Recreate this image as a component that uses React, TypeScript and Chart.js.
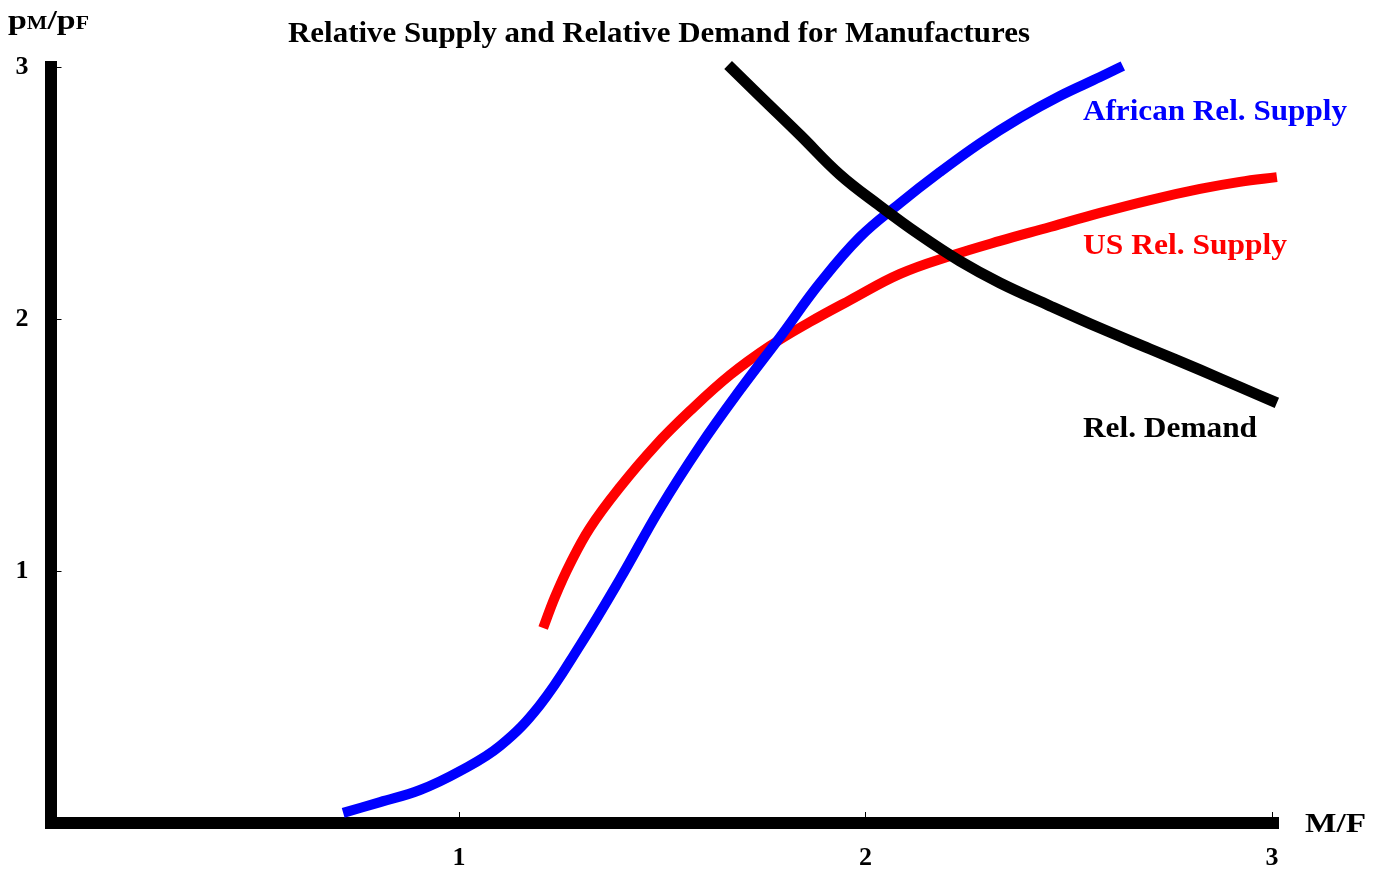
import React, { useEffect, useRef } from "react";
import { Chart, registerables } from "chart.js";

Chart.register(...registerables);

// ---- Data ----
const xTickValues = [1, 2, 3];
const yTickValues = [1, 2, 3];

const africanX = [0.715, 0.806, 0.904, 1.002, 1.101, 1.199, 1.298, 1.396, 1.494, 1.593, 1.691, 1.79, 1.888, 1.986, 2.085, 2.183, 2.282, 2.38, 2.478, 2.577, 2.633];
const africanY = [0.04, 0.083, 0.131, 0.206, 0.306, 0.468, 0.706, 0.968, 1.246, 1.496, 1.718, 1.929, 2.143, 2.325, 2.46, 2.583, 2.698, 2.798, 2.885, 2.96, 3.004];

const usX = [1.207, 1.236, 1.273, 1.322, 1.396, 1.482, 1.568, 1.667, 1.765, 1.863, 1.962, 2.085, 2.208, 2.331, 2.454, 2.577, 2.7, 2.823, 2.921, 3.012];
const usY = [0.774, 0.897, 1.028, 1.171, 1.333, 1.496, 1.635, 1.778, 1.893, 1.988, 2.075, 2.179, 2.25, 2.31, 2.365, 2.421, 2.472, 2.516, 2.544, 2.563];

const demandX = [1.662, 1.74, 1.839, 1.937, 2.036, 2.134, 2.232, 2.331, 2.454, 2.577, 2.7, 2.823, 2.921, 3.012];
const demandY = [3.008, 2.885, 2.73, 2.573, 2.448, 2.333, 2.23, 2.143, 2.052, 1.964, 1.881, 1.798, 1.73, 1.667];

const seriesNames = ["Rel. Demand", "African Rel. Supply", "US Rel. Supply"];
const titleText = "Relative Supply and Relative Demand for Manufactures";
const xAxisTitle = "M/F";

// label anchors (data coordinates: left edge, baseline)
const labelAnchorX = [2.535, 2.535, 2.535];
const labelAnchorY = [1.532, 2.79, 2.258];

const colors = ["#000000", "#0000ff", "#ff0000"];
const SERIF = '"Liberation Serif", "Times New Roman", serif';

const zip = (xs: number[], ys: number[]) => xs.map((v, i) => ({ x: v, y: ys[i] }));

// draw text horizontally stretched to a given width (the reference text is wide)
function drawFit(ctx: CanvasRenderingContext2D, text: string, x: number, y: number, width: number, align: "left" | "center") {
  const w = ctx.measureText(text).width;
  const sx = width / w;
  ctx.save();
  ctx.textAlign = "left";
  const left = align === "center" ? x - width / 2 : x;
  ctx.translate(left, y);
  ctx.scale(sx, 1);
  ctx.fillText(text, 0, 0);
  ctx.restore();
}

const textPlugin = {
  id: "rsrdText",
  afterDraw(chart: any) {
    const { ctx } = chart;
    const xs = chart.scales.x;
    const ys = chart.scales.y;
    ctx.save();
    ctx.textBaseline = "alphabetic";
    // title
    ctx.fillStyle = "#000";
    ctx.font = `bold 30px ${SERIF}`;
    drawFit(ctx, titleText, 659, 42, 742, "center");
    // curve labels
    const labelWidths = [174, 264, 204];
    ctx.font = `bold 30px ${SERIF}`;
    seriesNames.forEach((name, i) => {
      ctx.fillStyle = colors[i];
      drawFit(ctx, name, xs.getPixelForValue(labelAnchorX[i]), ys.getPixelForValue(labelAnchorY[i]), labelWidths[i], "left");
    });
    // x-axis title
    ctx.fillStyle = "#000";
    ctx.font = `bold 28px ${SERIF}`;
    drawFit(ctx, xAxisTitle, 1305, 832, 61, "left");
    // y-axis title pM/pF
    const parts: [string, number][] = [["p", 28], ["M", 18], ["/", 28], ["p", 28], ["F", 18]];
    let total = 0;
    parts.forEach(([t, s]) => {
      ctx.font = `bold ${s}px ${SERIF}`;
      total += ctx.measureText(t).width;
    });
    const sx = 81 / total;
    ctx.translate(8, 29);
    ctx.scale(sx, 1);
    let cx = 0;
    parts.forEach(([t, s]) => {
      ctx.font = `bold ${s}px ${SERIF}`;
      ctx.fillText(t, cx, 0);
      cx += ctx.measureText(t).width;
    });
    ctx.restore();
  },
};

export default function App() {
  const ref = useRef<HTMLCanvasElement | null>(null);
  useEffect(() => {
    if (!ref.current) return;
    const tickFont = { family: SERIF, size: 26, weight: "bold" as const };
    const chart = new Chart(ref.current, {
      type: "line",
      data: {
        datasets: [
          { label: seriesNames[0], data: zip(demandX, demandY), borderColor: colors[0], borderWidth: 11 },
          { label: seriesNames[1], data: zip(africanX, africanY), borderColor: colors[1], borderWidth: 10 },
          { label: seriesNames[2], data: zip(usX, usY), borderColor: colors[2], borderWidth: 10 },
        ].map((d) => ({
          ...d,
          pointRadius: 0,
          fill: false,
          tension: 0.4,
          borderCapStyle: "butt" as const,
          borderJoinStyle: "round" as const,
          clip: false as any,
        })),
      },
      options: {
        animation: false,
        responsive: false,
        devicePixelRatio: 1,
        layout: { padding: { left: 0, top: 67, right: 105.9, bottom: 0 } },
        plugins: { legend: { display: false }, tooltip: { enabled: false }, title: { display: false } },
        scales: {
          x: {
            type: "linear",
            min: -0.005,
            max: 3.015,
            afterFit: (s: any) => {
              s.height = 52;
            },
            border: { display: true, width: 12, color: "#000" },
            grid: { display: true, drawOnChartArea: false, drawTicks: true, tickLength: -11, color: "#000", lineWidth: 1 },
            ticks: {
              stepSize: 1,
              includeBounds: false,
              padding: 31,
              autoSkip: false,
              maxRotation: 0,
              color: "#000",
              font: tickFont,
              callback: (v: any) => (xTickValues.includes(Number(v)) ? String(v) : ""),
            },
          },
          y: {
            type: "linear",
            min: 0,
            max: 3,
            afterFit: (s: any) => {
              s.width = 50.5;
            },
            border: { display: true, width: 12, color: "#000" },
            grid: { display: true, drawOnChartArea: false, drawTicks: true, tickLength: -11, color: "#000", lineWidth: 1 },
            ticks: {
              stepSize: 1,
              includeBounds: false,
              padding: 33,
              autoSkip: false,
              color: "#000",
              font: tickFont,
              callback: (v: any) => (yTickValues.includes(Number(v)) ? String(v) : ""),
            },
          },
        },
      },
      plugins: [textPlugin],
    });
    return () => chart.destroy();
  }, []);
  return (
    <div style={{ position: "absolute", left: 0, top: 0, width: 1384, height: 875, background: "#fff" }}>
      <canvas ref={ref} width={1384} height={875} style={{ display: "block" }} />
    </div>
  );
}
